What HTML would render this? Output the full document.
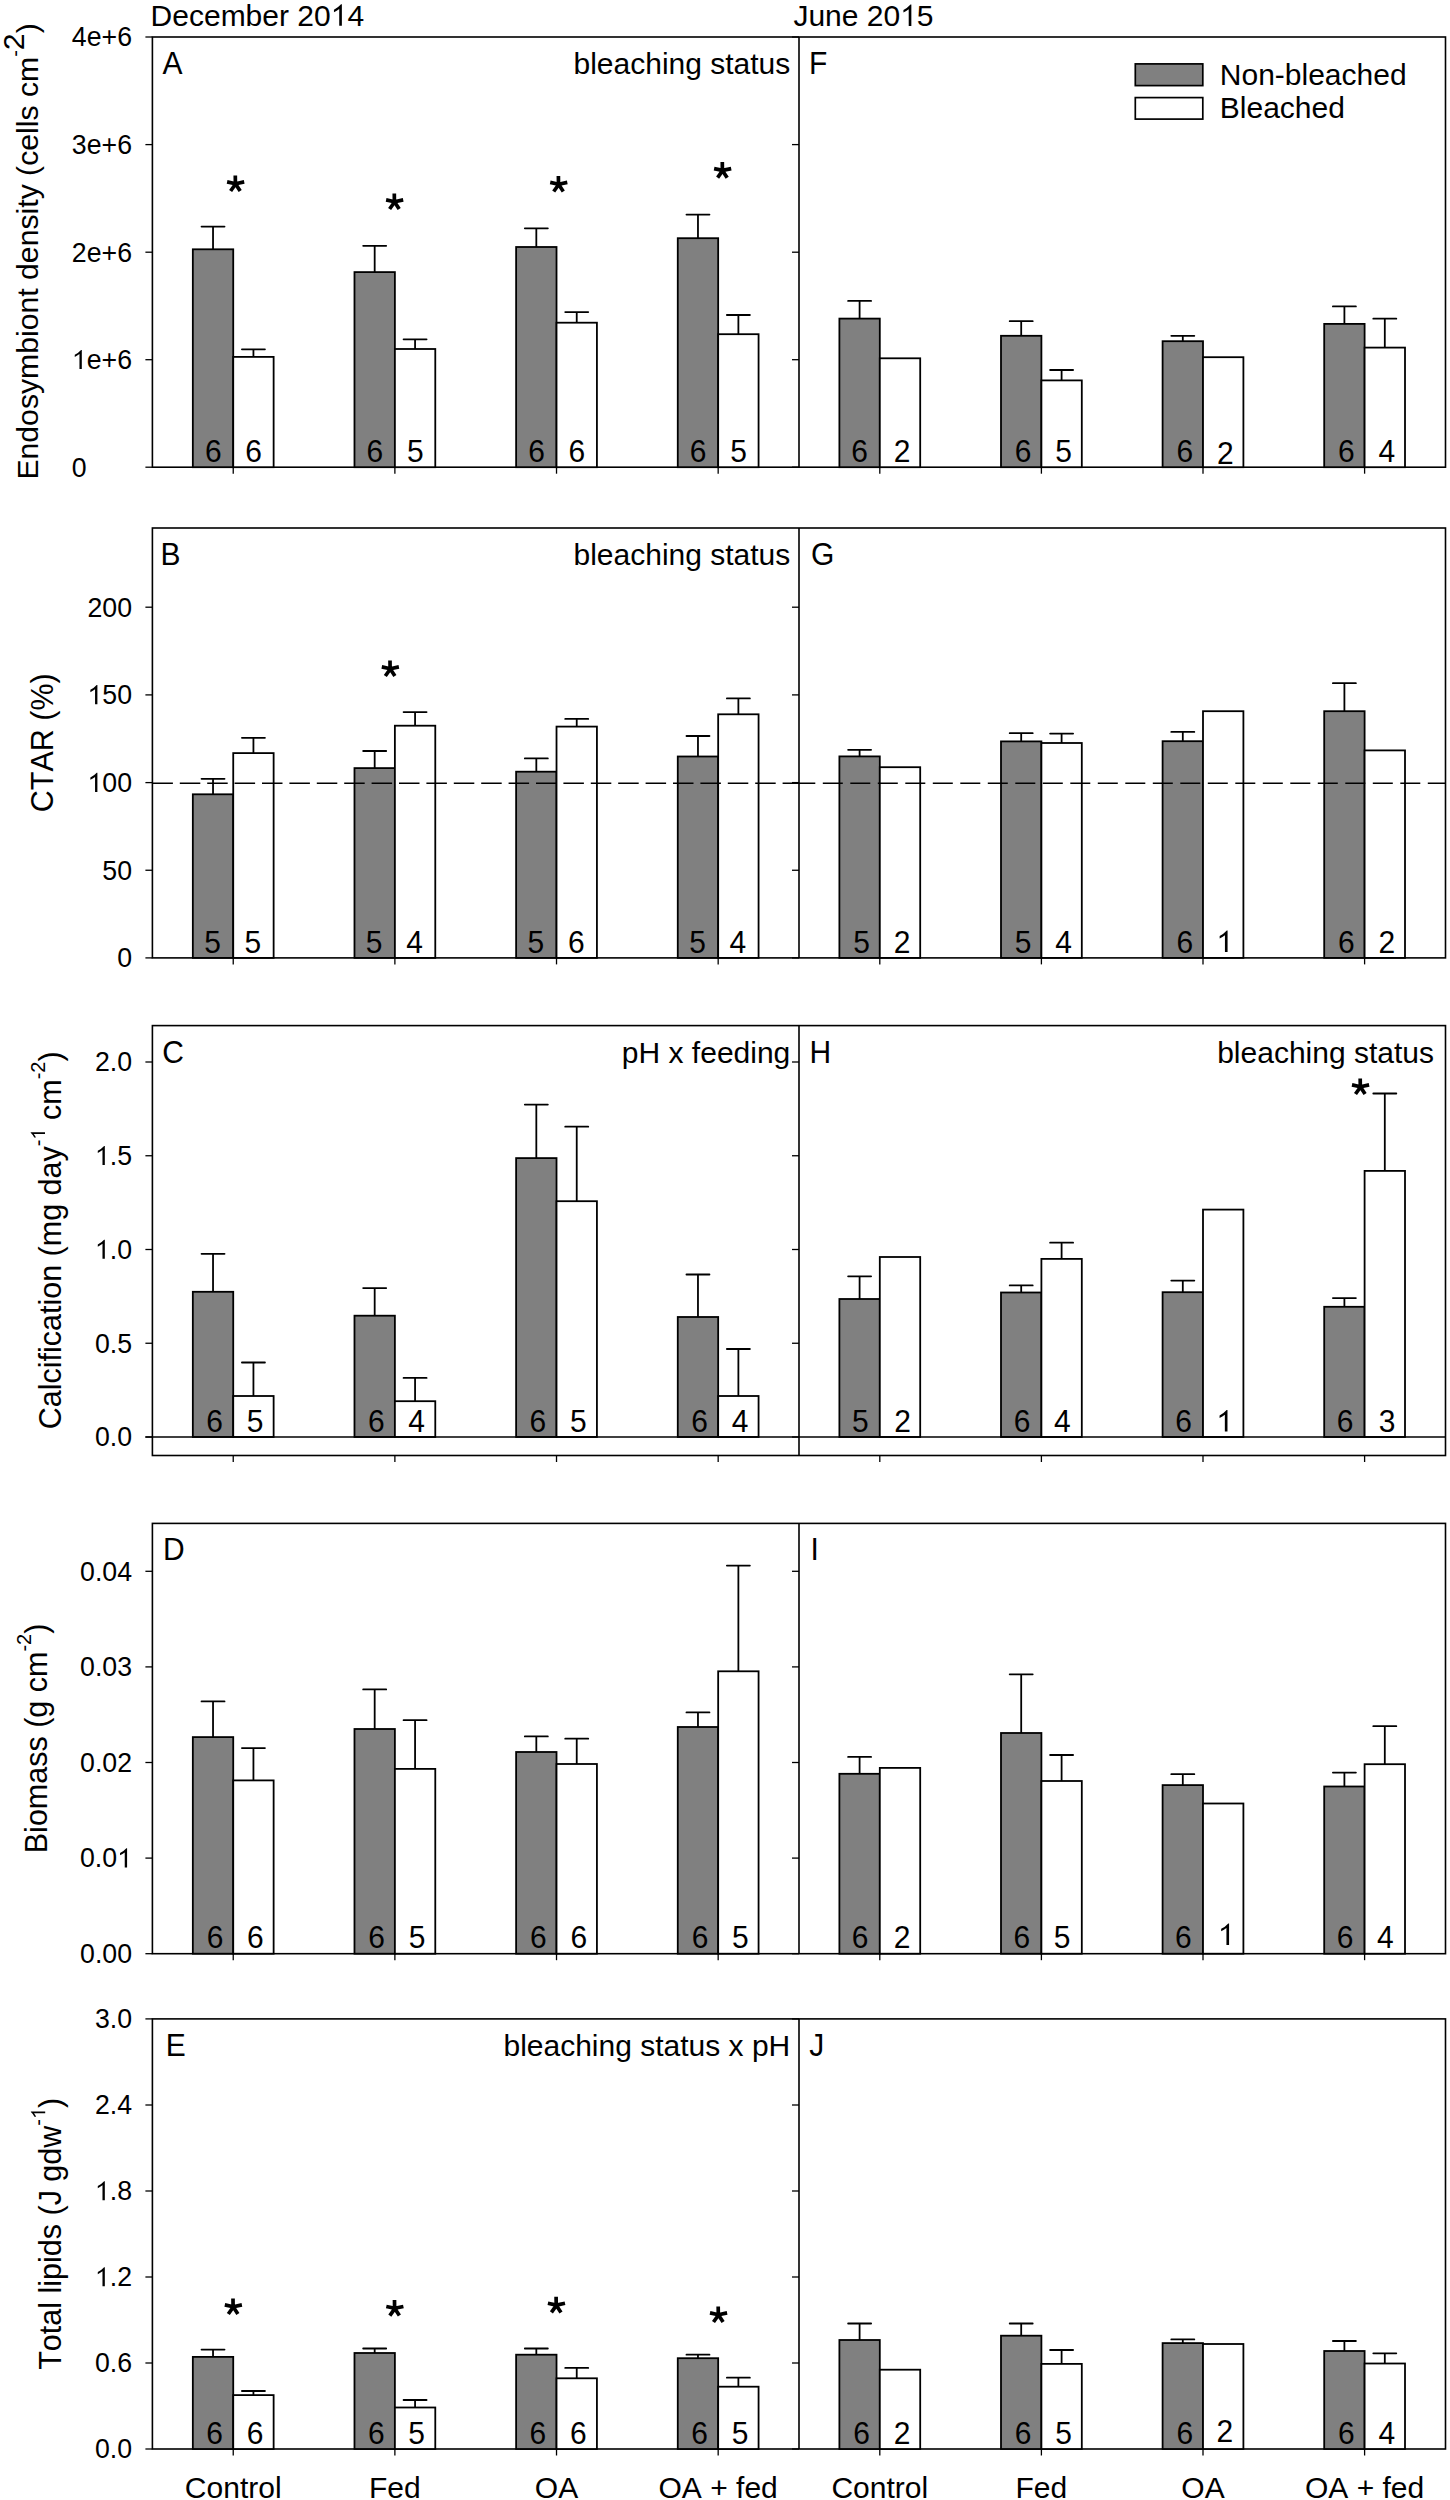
<!DOCTYPE html>
<html><head><meta charset="utf-8"><title>Figure</title>
<style>
html,body{margin:0;padding:0;background:#fff;}
svg{display:block;}
text{font-family:"Liberation Sans", sans-serif;fill:#000;font-kerning:none;}
.o{fill-opacity:0;}
</style></head>
<body>
<svg width="1450" height="2500" viewBox="0 0 1450 2500">
<defs><path id="one" d="M372.6,0 L284.7,0 L284.7,-560.1 Q205.1,-493.2 108.9,-452.1 L108.9,-537.1 Q244.1,-600.6 345.2,-715.8 L372.6,-715.8 Z"/><path id="ast" d="M-0.2,0 L-0.3,-8.6 M0,-0.3 L-8.5,-2.1 M0,-0.3 L8.6,-2.1 M0,0 L-5.0,7.0 M0,0 L4.6,7.0" stroke="#000" stroke-width="3.7" fill="none"/></defs>
<rect x="0" y="0" width="1450" height="2500" fill="#fff"/>
<rect x="152.4" y="37" width="1293.1" height="430.2" fill="none" stroke="#000" stroke-width="1.6"/>
<line x1="799" y1="37" x2="799" y2="467.2" stroke="#000" stroke-width="1.6"/>
<line x1="145.4" y1="467.2" x2="152.4" y2="467.2" stroke="#000" stroke-width="1.3"/>
<line x1="792" y1="467.2" x2="799" y2="467.2" stroke="#000" stroke-width="1.3"/>
<text transform="translate(71.7,476.5) scale(1,1.038)" font-size="26.7">0</text>
<line x1="145.4" y1="359.7" x2="152.4" y2="359.7" stroke="#000" stroke-width="1.3"/>
<line x1="792" y1="359.7" x2="799" y2="359.7" stroke="#000" stroke-width="1.3"/>
<text transform="translate(132,369) scale(1,1.038)" text-anchor="end" font-size="26.7"><tspan class="o">1</tspan>e+6</text>
<line x1="145.4" y1="252.2" x2="152.4" y2="252.2" stroke="#000" stroke-width="1.3"/>
<line x1="792" y1="252.2" x2="799" y2="252.2" stroke="#000" stroke-width="1.3"/>
<text transform="translate(132,261.5) scale(1,1.038)" text-anchor="end" font-size="26.7">2e+6</text>
<line x1="145.4" y1="144.6" x2="152.4" y2="144.6" stroke="#000" stroke-width="1.3"/>
<line x1="792" y1="144.6" x2="799" y2="144.6" stroke="#000" stroke-width="1.3"/>
<text transform="translate(132,153.9) scale(1,1.038)" text-anchor="end" font-size="26.7">3e+6</text>
<line x1="145.4" y1="37" x2="152.4" y2="37" stroke="#000" stroke-width="1.3"/>
<line x1="792" y1="37" x2="799" y2="37" stroke="#000" stroke-width="1.3"/>
<text transform="translate(132,46.3) scale(1,1.038)" text-anchor="end" font-size="26.7">4e+6</text>
<line x1="233.23" y1="467.2" x2="233.23" y2="473.7" stroke="#000" stroke-width="1.3"/>
<line x1="394.88" y1="467.2" x2="394.88" y2="473.7" stroke="#000" stroke-width="1.3"/>
<line x1="556.52" y1="467.2" x2="556.52" y2="473.7" stroke="#000" stroke-width="1.3"/>
<line x1="718.17" y1="467.2" x2="718.17" y2="473.7" stroke="#000" stroke-width="1.3"/>
<line x1="879.8" y1="467.2" x2="879.8" y2="473.7" stroke="#000" stroke-width="1.3"/>
<line x1="1041.4" y1="467.2" x2="1041.4" y2="473.7" stroke="#000" stroke-width="1.3"/>
<line x1="1203" y1="467.2" x2="1203" y2="473.7" stroke="#000" stroke-width="1.3"/>
<line x1="1364.6" y1="467.2" x2="1364.6" y2="473.7" stroke="#000" stroke-width="1.3"/>
<rect x="152.4" y="528" width="1293.1" height="429.9" fill="none" stroke="#000" stroke-width="1.6"/>
<line x1="799" y1="528" x2="799" y2="957.9" stroke="#000" stroke-width="1.6"/>
<line x1="145.4" y1="957.9" x2="152.4" y2="957.9" stroke="#000" stroke-width="1.3"/>
<line x1="792" y1="957.9" x2="799" y2="957.9" stroke="#000" stroke-width="1.3"/>
<text transform="translate(132,967.2) scale(1,1.038)" text-anchor="end" font-size="26.7">0</text>
<line x1="145.4" y1="870.25" x2="152.4" y2="870.25" stroke="#000" stroke-width="1.3"/>
<line x1="792" y1="870.25" x2="799" y2="870.25" stroke="#000" stroke-width="1.3"/>
<text transform="translate(132,879.55) scale(1,1.038)" text-anchor="end" font-size="26.7">50</text>
<line x1="145.4" y1="782.6" x2="152.4" y2="782.6" stroke="#000" stroke-width="1.3"/>
<line x1="792" y1="782.6" x2="799" y2="782.6" stroke="#000" stroke-width="1.3"/>
<text transform="translate(132,791.9) scale(1,1.038)" text-anchor="end" font-size="26.7"><tspan class="o">1</tspan>00</text>
<line x1="145.4" y1="694.9" x2="152.4" y2="694.9" stroke="#000" stroke-width="1.3"/>
<line x1="792" y1="694.9" x2="799" y2="694.9" stroke="#000" stroke-width="1.3"/>
<text transform="translate(132,704.2) scale(1,1.038)" text-anchor="end" font-size="26.7"><tspan class="o">1</tspan>50</text>
<line x1="145.4" y1="607.2" x2="152.4" y2="607.2" stroke="#000" stroke-width="1.3"/>
<line x1="792" y1="607.2" x2="799" y2="607.2" stroke="#000" stroke-width="1.3"/>
<text transform="translate(132,616.5) scale(1,1.038)" text-anchor="end" font-size="26.7">200</text>
<line x1="233.23" y1="957.9" x2="233.23" y2="964.4" stroke="#000" stroke-width="1.3"/>
<line x1="394.88" y1="957.9" x2="394.88" y2="964.4" stroke="#000" stroke-width="1.3"/>
<line x1="556.52" y1="957.9" x2="556.52" y2="964.4" stroke="#000" stroke-width="1.3"/>
<line x1="718.17" y1="957.9" x2="718.17" y2="964.4" stroke="#000" stroke-width="1.3"/>
<line x1="879.8" y1="957.9" x2="879.8" y2="964.4" stroke="#000" stroke-width="1.3"/>
<line x1="1041.4" y1="957.9" x2="1041.4" y2="964.4" stroke="#000" stroke-width="1.3"/>
<line x1="1203" y1="957.9" x2="1203" y2="964.4" stroke="#000" stroke-width="1.3"/>
<line x1="1364.6" y1="957.9" x2="1364.6" y2="964.4" stroke="#000" stroke-width="1.3"/>
<rect x="152.4" y="1025.6" width="1293.1" height="429.9" fill="none" stroke="#000" stroke-width="1.6"/>
<line x1="799" y1="1025.6" x2="799" y2="1455.5" stroke="#000" stroke-width="1.6"/>
<line x1="145.4" y1="1437" x2="152.4" y2="1437" stroke="#000" stroke-width="1.3"/>
<line x1="792" y1="1437" x2="799" y2="1437" stroke="#000" stroke-width="1.3"/>
<text transform="translate(132,1446.3) scale(1,1.038)" text-anchor="end" font-size="26.7">0.0</text>
<line x1="145.4" y1="1343.25" x2="152.4" y2="1343.25" stroke="#000" stroke-width="1.3"/>
<line x1="792" y1="1343.25" x2="799" y2="1343.25" stroke="#000" stroke-width="1.3"/>
<text transform="translate(132,1352.55) scale(1,1.038)" text-anchor="end" font-size="26.7">0.5</text>
<line x1="145.4" y1="1249.5" x2="152.4" y2="1249.5" stroke="#000" stroke-width="1.3"/>
<line x1="792" y1="1249.5" x2="799" y2="1249.5" stroke="#000" stroke-width="1.3"/>
<text transform="translate(132,1258.8) scale(1,1.038)" text-anchor="end" font-size="26.7"><tspan class="o">1</tspan>.0</text>
<line x1="145.4" y1="1155.75" x2="152.4" y2="1155.75" stroke="#000" stroke-width="1.3"/>
<line x1="792" y1="1155.75" x2="799" y2="1155.75" stroke="#000" stroke-width="1.3"/>
<text transform="translate(132,1165.05) scale(1,1.038)" text-anchor="end" font-size="26.7"><tspan class="o">1</tspan>.5</text>
<line x1="145.4" y1="1062" x2="152.4" y2="1062" stroke="#000" stroke-width="1.3"/>
<line x1="792" y1="1062" x2="799" y2="1062" stroke="#000" stroke-width="1.3"/>
<text transform="translate(132,1071.3) scale(1,1.038)" text-anchor="end" font-size="26.7">2.0</text>
<line x1="233.23" y1="1455.5" x2="233.23" y2="1462" stroke="#000" stroke-width="1.3"/>
<line x1="394.88" y1="1455.5" x2="394.88" y2="1462" stroke="#000" stroke-width="1.3"/>
<line x1="556.52" y1="1455.5" x2="556.52" y2="1462" stroke="#000" stroke-width="1.3"/>
<line x1="718.17" y1="1455.5" x2="718.17" y2="1462" stroke="#000" stroke-width="1.3"/>
<line x1="879.8" y1="1455.5" x2="879.8" y2="1462" stroke="#000" stroke-width="1.3"/>
<line x1="1041.4" y1="1455.5" x2="1041.4" y2="1462" stroke="#000" stroke-width="1.3"/>
<line x1="1203" y1="1455.5" x2="1203" y2="1462" stroke="#000" stroke-width="1.3"/>
<line x1="1364.6" y1="1455.5" x2="1364.6" y2="1462" stroke="#000" stroke-width="1.3"/>
<rect x="152.4" y="1523.4" width="1293.1" height="430.3" fill="none" stroke="#000" stroke-width="1.6"/>
<line x1="799" y1="1523.4" x2="799" y2="1953.7" stroke="#000" stroke-width="1.6"/>
<line x1="145.4" y1="1953.7" x2="152.4" y2="1953.7" stroke="#000" stroke-width="1.3"/>
<line x1="792" y1="1953.7" x2="799" y2="1953.7" stroke="#000" stroke-width="1.3"/>
<text transform="translate(132,1963) scale(1,1.038)" text-anchor="end" font-size="26.7">0.00</text>
<line x1="145.4" y1="1858.1" x2="152.4" y2="1858.1" stroke="#000" stroke-width="1.3"/>
<line x1="792" y1="1858.1" x2="799" y2="1858.1" stroke="#000" stroke-width="1.3"/>
<text transform="translate(132,1867.4) scale(1,1.038)" text-anchor="end" font-size="26.7">0.0<tspan class="o">1</tspan></text>
<line x1="145.4" y1="1762.5" x2="152.4" y2="1762.5" stroke="#000" stroke-width="1.3"/>
<line x1="792" y1="1762.5" x2="799" y2="1762.5" stroke="#000" stroke-width="1.3"/>
<text transform="translate(132,1771.8) scale(1,1.038)" text-anchor="end" font-size="26.7">0.02</text>
<line x1="145.4" y1="1666.9" x2="152.4" y2="1666.9" stroke="#000" stroke-width="1.3"/>
<line x1="792" y1="1666.9" x2="799" y2="1666.9" stroke="#000" stroke-width="1.3"/>
<text transform="translate(132,1676.2) scale(1,1.038)" text-anchor="end" font-size="26.7">0.03</text>
<line x1="145.4" y1="1571.3" x2="152.4" y2="1571.3" stroke="#000" stroke-width="1.3"/>
<line x1="792" y1="1571.3" x2="799" y2="1571.3" stroke="#000" stroke-width="1.3"/>
<text transform="translate(132,1580.6) scale(1,1.038)" text-anchor="end" font-size="26.7">0.04</text>
<line x1="233.23" y1="1953.7" x2="233.23" y2="1960.2" stroke="#000" stroke-width="1.3"/>
<line x1="394.88" y1="1953.7" x2="394.88" y2="1960.2" stroke="#000" stroke-width="1.3"/>
<line x1="556.52" y1="1953.7" x2="556.52" y2="1960.2" stroke="#000" stroke-width="1.3"/>
<line x1="718.17" y1="1953.7" x2="718.17" y2="1960.2" stroke="#000" stroke-width="1.3"/>
<line x1="879.8" y1="1953.7" x2="879.8" y2="1960.2" stroke="#000" stroke-width="1.3"/>
<line x1="1041.4" y1="1953.7" x2="1041.4" y2="1960.2" stroke="#000" stroke-width="1.3"/>
<line x1="1203" y1="1953.7" x2="1203" y2="1960.2" stroke="#000" stroke-width="1.3"/>
<line x1="1364.6" y1="1953.7" x2="1364.6" y2="1960.2" stroke="#000" stroke-width="1.3"/>
<rect x="152.4" y="2018.9" width="1293.1" height="430.1" fill="none" stroke="#000" stroke-width="1.6"/>
<line x1="799" y1="2018.9" x2="799" y2="2449" stroke="#000" stroke-width="1.6"/>
<line x1="145.4" y1="2449" x2="152.4" y2="2449" stroke="#000" stroke-width="1.3"/>
<line x1="792" y1="2449" x2="799" y2="2449" stroke="#000" stroke-width="1.3"/>
<text transform="translate(132,2458.3) scale(1,1.038)" text-anchor="end" font-size="26.7">0.0</text>
<line x1="145.4" y1="2363" x2="152.4" y2="2363" stroke="#000" stroke-width="1.3"/>
<line x1="792" y1="2363" x2="799" y2="2363" stroke="#000" stroke-width="1.3"/>
<text transform="translate(132,2372.3) scale(1,1.038)" text-anchor="end" font-size="26.7">0.6</text>
<line x1="145.4" y1="2277" x2="152.4" y2="2277" stroke="#000" stroke-width="1.3"/>
<line x1="792" y1="2277" x2="799" y2="2277" stroke="#000" stroke-width="1.3"/>
<text transform="translate(132,2286.3) scale(1,1.038)" text-anchor="end" font-size="26.7"><tspan class="o">1</tspan>.2</text>
<line x1="145.4" y1="2191" x2="152.4" y2="2191" stroke="#000" stroke-width="1.3"/>
<line x1="792" y1="2191" x2="799" y2="2191" stroke="#000" stroke-width="1.3"/>
<text transform="translate(132,2200.3) scale(1,1.038)" text-anchor="end" font-size="26.7"><tspan class="o">1</tspan>.8</text>
<line x1="145.4" y1="2105" x2="152.4" y2="2105" stroke="#000" stroke-width="1.3"/>
<line x1="792" y1="2105" x2="799" y2="2105" stroke="#000" stroke-width="1.3"/>
<text transform="translate(132,2114.3) scale(1,1.038)" text-anchor="end" font-size="26.7">2.4</text>
<line x1="145.4" y1="2018.9" x2="152.4" y2="2018.9" stroke="#000" stroke-width="1.3"/>
<line x1="792" y1="2018.9" x2="799" y2="2018.9" stroke="#000" stroke-width="1.3"/>
<text transform="translate(132,2028.2) scale(1,1.038)" text-anchor="end" font-size="26.7">3.0</text>
<line x1="233.23" y1="2449" x2="233.23" y2="2455.5" stroke="#000" stroke-width="1.3"/>
<line x1="394.88" y1="2449" x2="394.88" y2="2455.5" stroke="#000" stroke-width="1.3"/>
<line x1="556.52" y1="2449" x2="556.52" y2="2455.5" stroke="#000" stroke-width="1.3"/>
<line x1="718.17" y1="2449" x2="718.17" y2="2455.5" stroke="#000" stroke-width="1.3"/>
<line x1="879.8" y1="2449" x2="879.8" y2="2455.5" stroke="#000" stroke-width="1.3"/>
<line x1="1041.4" y1="2449" x2="1041.4" y2="2455.5" stroke="#000" stroke-width="1.3"/>
<line x1="1203" y1="2449" x2="1203" y2="2455.5" stroke="#000" stroke-width="1.3"/>
<line x1="1364.6" y1="2449" x2="1364.6" y2="2455.5" stroke="#000" stroke-width="1.3"/>
<rect x="192.83" y="249.3" width="40.4" height="217.9" fill="#808080" stroke="#000" stroke-width="1.8"/>
<rect x="233.23" y="356.9" width="40.4" height="110.3" fill="#fff" stroke="#000" stroke-width="1.8"/>
<line x1="213.03" y1="249.3" x2="213.03" y2="226.6" stroke="#000" stroke-width="1.8"/>
<line x1="201.53" y1="226.6" x2="224.53" y2="226.6" stroke="#000" stroke-width="1.8" stroke-linecap="round"/>
<line x1="253.43" y1="356.9" x2="253.43" y2="349.3" stroke="#000" stroke-width="1.8"/>
<line x1="241.93" y1="349.3" x2="264.93" y2="349.3" stroke="#000" stroke-width="1.8" stroke-linecap="round"/>
<text transform="translate(213.23,461.9) scale(1,1.038)" text-anchor="middle" font-size="30">6</text>
<text transform="translate(253.62,461.9) scale(1,1.038)" text-anchor="middle" font-size="30">6</text>
<rect x="354.48" y="272.1" width="40.4" height="195.1" fill="#808080" stroke="#000" stroke-width="1.8"/>
<rect x="394.88" y="349" width="40.4" height="118.2" fill="#fff" stroke="#000" stroke-width="1.8"/>
<line x1="374.68" y1="272.1" x2="374.68" y2="245.8" stroke="#000" stroke-width="1.8"/>
<line x1="363.18" y1="245.8" x2="386.18" y2="245.8" stroke="#000" stroke-width="1.8" stroke-linecap="round"/>
<line x1="415.07" y1="349" x2="415.07" y2="339.3" stroke="#000" stroke-width="1.8"/>
<line x1="403.57" y1="339.3" x2="426.57" y2="339.3" stroke="#000" stroke-width="1.8" stroke-linecap="round"/>
<text transform="translate(374.88,461.9) scale(1,1.038)" text-anchor="middle" font-size="30">6</text>
<text transform="translate(415.27,461.9) scale(1,1.038)" text-anchor="middle" font-size="30">5</text>
<rect x="516.12" y="247" width="40.4" height="220.2" fill="#808080" stroke="#000" stroke-width="1.8"/>
<rect x="556.52" y="322.7" width="40.4" height="144.5" fill="#fff" stroke="#000" stroke-width="1.8"/>
<line x1="536.32" y1="247" x2="536.32" y2="228.3" stroke="#000" stroke-width="1.8"/>
<line x1="524.82" y1="228.3" x2="547.82" y2="228.3" stroke="#000" stroke-width="1.8" stroke-linecap="round"/>
<line x1="576.73" y1="322.7" x2="576.73" y2="312.1" stroke="#000" stroke-width="1.8"/>
<line x1="565.23" y1="312.1" x2="588.23" y2="312.1" stroke="#000" stroke-width="1.8" stroke-linecap="round"/>
<text transform="translate(536.52,461.9) scale(1,1.038)" text-anchor="middle" font-size="30">6</text>
<text transform="translate(576.93,461.9) scale(1,1.038)" text-anchor="middle" font-size="30">6</text>
<rect x="677.77" y="238.2" width="40.4" height="229" fill="#808080" stroke="#000" stroke-width="1.8"/>
<rect x="718.17" y="334.2" width="40.4" height="133" fill="#fff" stroke="#000" stroke-width="1.8"/>
<line x1="697.97" y1="238.2" x2="697.97" y2="214.6" stroke="#000" stroke-width="1.8"/>
<line x1="686.47" y1="214.6" x2="709.47" y2="214.6" stroke="#000" stroke-width="1.8" stroke-linecap="round"/>
<line x1="738.38" y1="334.2" x2="738.38" y2="315" stroke="#000" stroke-width="1.8"/>
<line x1="726.88" y1="315" x2="749.88" y2="315" stroke="#000" stroke-width="1.8" stroke-linecap="round"/>
<text transform="translate(698.17,461.9) scale(1,1.038)" text-anchor="middle" font-size="30">6</text>
<text transform="translate(738.58,461.9) scale(1,1.038)" text-anchor="middle" font-size="30">5</text>
<use href="#ast" x="235.6" y="184"/>
<use href="#ast" x="394.6" y="202"/>
<use href="#ast" x="558.7" y="184.5"/>
<use href="#ast" x="722.6" y="170.7"/>
<text transform="translate(162.5,74) scale(1,1.038)" font-size="30">A</text>
<text x="790.3" y="74" text-anchor="end" font-size="30">bleaching status</text>
<rect x="839.4" y="318.6" width="40.4" height="148.6" fill="#808080" stroke="#000" stroke-width="1.8"/>
<rect x="879.8" y="358.3" width="40.4" height="108.9" fill="#fff" stroke="#000" stroke-width="1.8"/>
<line x1="859.6" y1="318.6" x2="859.6" y2="300.9" stroke="#000" stroke-width="1.8"/>
<line x1="848.1" y1="300.9" x2="871.1" y2="300.9" stroke="#000" stroke-width="1.8" stroke-linecap="round"/>
<text transform="translate(859.6,461.9) scale(1,1.038)" text-anchor="middle" font-size="30">6</text>
<text transform="translate(902,461.9) scale(1,1.038)" text-anchor="middle" font-size="30">2</text>
<rect x="1001" y="335.8" width="40.4" height="131.4" fill="#808080" stroke="#000" stroke-width="1.8"/>
<rect x="1041.4" y="380.4" width="40.4" height="86.8" fill="#fff" stroke="#000" stroke-width="1.8"/>
<line x1="1021.2" y1="335.8" x2="1021.2" y2="321.2" stroke="#000" stroke-width="1.8"/>
<line x1="1009.7" y1="321.2" x2="1032.7" y2="321.2" stroke="#000" stroke-width="1.8" stroke-linecap="round"/>
<line x1="1061.6" y1="380.4" x2="1061.6" y2="370" stroke="#000" stroke-width="1.8"/>
<line x1="1050.1" y1="370" x2="1073.1" y2="370" stroke="#000" stroke-width="1.8" stroke-linecap="round"/>
<text transform="translate(1023.2,461.9) scale(1,1.038)" text-anchor="middle" font-size="30">6</text>
<text transform="translate(1063.6,461.9) scale(1,1.038)" text-anchor="middle" font-size="30">5</text>
<rect x="1162.6" y="341.2" width="40.4" height="126" fill="#808080" stroke="#000" stroke-width="1.8"/>
<rect x="1203" y="357.2" width="40.4" height="110" fill="#fff" stroke="#000" stroke-width="1.8"/>
<line x1="1182.8" y1="341.2" x2="1182.8" y2="335.8" stroke="#000" stroke-width="1.8"/>
<line x1="1171.3" y1="335.8" x2="1194.3" y2="335.8" stroke="#000" stroke-width="1.8" stroke-linecap="round"/>
<text transform="translate(1184.8,461.9) scale(1,1.038)" text-anchor="middle" font-size="30">6</text>
<text transform="translate(1225.4,463.9) scale(1,1.038)" text-anchor="middle" font-size="30">2</text>
<rect x="1324.2" y="323.9" width="40.4" height="143.3" fill="#808080" stroke="#000" stroke-width="1.8"/>
<rect x="1364.6" y="347.6" width="40.4" height="119.6" fill="#fff" stroke="#000" stroke-width="1.8"/>
<line x1="1344.4" y1="323.9" x2="1344.4" y2="306.4" stroke="#000" stroke-width="1.8"/>
<line x1="1332.9" y1="306.4" x2="1355.9" y2="306.4" stroke="#000" stroke-width="1.8" stroke-linecap="round"/>
<line x1="1384.8" y1="347.6" x2="1384.8" y2="318.7" stroke="#000" stroke-width="1.8"/>
<line x1="1373.3" y1="318.7" x2="1396.3" y2="318.7" stroke="#000" stroke-width="1.8" stroke-linecap="round"/>
<text transform="translate(1346.4,461.9) scale(1,1.038)" text-anchor="middle" font-size="30">6</text>
<text transform="translate(1386.8,461.9) scale(1,1.038)" text-anchor="middle" font-size="30">4</text>
<text transform="translate(809.0,74) scale(1,1.038)" font-size="30">F</text>
<rect x="192.83" y="794.3" width="40.4" height="163.6" fill="#808080" stroke="#000" stroke-width="1.8"/>
<rect x="233.23" y="753.1" width="40.4" height="204.8" fill="#fff" stroke="#000" stroke-width="1.8"/>
<line x1="213.03" y1="794.3" x2="213.03" y2="778.8" stroke="#000" stroke-width="1.8"/>
<line x1="201.53" y1="778.8" x2="224.53" y2="778.8" stroke="#000" stroke-width="1.8" stroke-linecap="round"/>
<line x1="253.43" y1="753.1" x2="253.43" y2="737.8" stroke="#000" stroke-width="1.8"/>
<line x1="241.93" y1="737.8" x2="264.93" y2="737.8" stroke="#000" stroke-width="1.8" stroke-linecap="round"/>
<text transform="translate(212.53,952.6) scale(1,1.038)" text-anchor="middle" font-size="30">5</text>
<text transform="translate(252.93,952.6) scale(1,1.038)" text-anchor="middle" font-size="30">5</text>
<rect x="354.48" y="768.1" width="40.4" height="189.8" fill="#808080" stroke="#000" stroke-width="1.8"/>
<rect x="394.88" y="725.7" width="40.4" height="232.2" fill="#fff" stroke="#000" stroke-width="1.8"/>
<line x1="374.68" y1="768.1" x2="374.68" y2="751" stroke="#000" stroke-width="1.8"/>
<line x1="363.18" y1="751" x2="386.18" y2="751" stroke="#000" stroke-width="1.8" stroke-linecap="round"/>
<line x1="415.07" y1="725.7" x2="415.07" y2="712.1" stroke="#000" stroke-width="1.8"/>
<line x1="403.57" y1="712.1" x2="426.57" y2="712.1" stroke="#000" stroke-width="1.8" stroke-linecap="round"/>
<text transform="translate(374.18,952.6) scale(1,1.038)" text-anchor="middle" font-size="30">5</text>
<text transform="translate(414.57,952.6) scale(1,1.038)" text-anchor="middle" font-size="30">4</text>
<rect x="516.12" y="771.7" width="40.4" height="186.2" fill="#808080" stroke="#000" stroke-width="1.8"/>
<rect x="556.52" y="726.6" width="40.4" height="231.3" fill="#fff" stroke="#000" stroke-width="1.8"/>
<line x1="536.32" y1="771.7" x2="536.32" y2="758.4" stroke="#000" stroke-width="1.8"/>
<line x1="524.82" y1="758.4" x2="547.82" y2="758.4" stroke="#000" stroke-width="1.8" stroke-linecap="round"/>
<line x1="576.73" y1="726.6" x2="576.73" y2="718.9" stroke="#000" stroke-width="1.8"/>
<line x1="565.23" y1="718.9" x2="588.23" y2="718.9" stroke="#000" stroke-width="1.8" stroke-linecap="round"/>
<text transform="translate(535.82,952.6) scale(1,1.038)" text-anchor="middle" font-size="30">5</text>
<text transform="translate(576.23,952.6) scale(1,1.038)" text-anchor="middle" font-size="30">6</text>
<rect x="677.77" y="756.5" width="40.4" height="201.4" fill="#808080" stroke="#000" stroke-width="1.8"/>
<rect x="718.17" y="714.3" width="40.4" height="243.6" fill="#fff" stroke="#000" stroke-width="1.8"/>
<line x1="697.97" y1="756.5" x2="697.97" y2="736" stroke="#000" stroke-width="1.8"/>
<line x1="686.47" y1="736" x2="709.47" y2="736" stroke="#000" stroke-width="1.8" stroke-linecap="round"/>
<line x1="738.38" y1="714.3" x2="738.38" y2="698.4" stroke="#000" stroke-width="1.8"/>
<line x1="726.88" y1="698.4" x2="749.88" y2="698.4" stroke="#000" stroke-width="1.8" stroke-linecap="round"/>
<text transform="translate(697.47,952.6) scale(1,1.038)" text-anchor="middle" font-size="30">5</text>
<text transform="translate(737.88,952.6) scale(1,1.038)" text-anchor="middle" font-size="30">4</text>
<use href="#ast" x="390.3" y="669"/>
<text transform="translate(160.6,565) scale(1,1.038)" font-size="30">B</text>
<text x="790.3" y="565" text-anchor="end" font-size="30">bleaching status</text>
<rect x="839.4" y="756.4" width="40.4" height="201.5" fill="#808080" stroke="#000" stroke-width="1.8"/>
<rect x="879.8" y="767.2" width="40.4" height="190.7" fill="#fff" stroke="#000" stroke-width="1.8"/>
<line x1="859.6" y1="756.4" x2="859.6" y2="749.8" stroke="#000" stroke-width="1.8"/>
<line x1="848.1" y1="749.8" x2="871.1" y2="749.8" stroke="#000" stroke-width="1.8" stroke-linecap="round"/>
<text transform="translate(861.6,952.6) scale(1,1.038)" text-anchor="middle" font-size="30">5</text>
<text transform="translate(902,952.6) scale(1,1.038)" text-anchor="middle" font-size="30">2</text>
<rect x="1001" y="741.4" width="40.4" height="216.5" fill="#808080" stroke="#000" stroke-width="1.8"/>
<rect x="1041.4" y="743" width="40.4" height="214.9" fill="#fff" stroke="#000" stroke-width="1.8"/>
<line x1="1021.2" y1="741.4" x2="1021.2" y2="733.2" stroke="#000" stroke-width="1.8"/>
<line x1="1009.7" y1="733.2" x2="1032.7" y2="733.2" stroke="#000" stroke-width="1.8" stroke-linecap="round"/>
<line x1="1061.6" y1="743" x2="1061.6" y2="733.6" stroke="#000" stroke-width="1.8"/>
<line x1="1050.1" y1="733.6" x2="1073.1" y2="733.6" stroke="#000" stroke-width="1.8" stroke-linecap="round"/>
<text transform="translate(1023.2,952.6) scale(1,1.038)" text-anchor="middle" font-size="30">5</text>
<text transform="translate(1063.6,952.6) scale(1,1.038)" text-anchor="middle" font-size="30">4</text>
<rect x="1162.6" y="741.2" width="40.4" height="216.7" fill="#808080" stroke="#000" stroke-width="1.8"/>
<rect x="1203" y="711.2" width="40.4" height="246.7" fill="#fff" stroke="#000" stroke-width="1.8"/>
<line x1="1182.8" y1="741.2" x2="1182.8" y2="731.9" stroke="#000" stroke-width="1.8"/>
<line x1="1171.3" y1="731.9" x2="1194.3" y2="731.9" stroke="#000" stroke-width="1.8" stroke-linecap="round"/>
<text transform="translate(1184.8,952.6) scale(1,1.038)" text-anchor="middle" font-size="30">6</text>
<use href="#one" transform="translate(1216.4,952.0) scale(0.03)"/>
<rect x="1324.2" y="711.2" width="40.4" height="246.7" fill="#808080" stroke="#000" stroke-width="1.8"/>
<rect x="1364.6" y="750.4" width="40.4" height="207.5" fill="#fff" stroke="#000" stroke-width="1.8"/>
<line x1="1344.4" y1="711.2" x2="1344.4" y2="683.2" stroke="#000" stroke-width="1.8"/>
<line x1="1332.9" y1="683.2" x2="1355.9" y2="683.2" stroke="#000" stroke-width="1.8" stroke-linecap="round"/>
<text transform="translate(1346.4,952.6) scale(1,1.038)" text-anchor="middle" font-size="30">6</text>
<text transform="translate(1386.8,952.6) scale(1,1.038)" text-anchor="middle" font-size="30">2</text>
<text transform="translate(810.9,565) scale(1,1.038)" font-size="30">G</text>
<rect x="192.83" y="1291.8" width="40.4" height="145.2" fill="#808080" stroke="#000" stroke-width="1.8"/>
<rect x="233.23" y="1396" width="40.4" height="41" fill="#fff" stroke="#000" stroke-width="1.8"/>
<line x1="213.03" y1="1291.8" x2="213.03" y2="1253.8" stroke="#000" stroke-width="1.8"/>
<line x1="201.53" y1="1253.8" x2="224.53" y2="1253.8" stroke="#000" stroke-width="1.8" stroke-linecap="round"/>
<line x1="253.43" y1="1396" x2="253.43" y2="1362.5" stroke="#000" stroke-width="1.8"/>
<line x1="241.93" y1="1362.5" x2="264.93" y2="1362.5" stroke="#000" stroke-width="1.8" stroke-linecap="round"/>
<text transform="translate(214.63,1432.3) scale(1,1.038)" text-anchor="middle" font-size="30">6</text>
<text transform="translate(255.03,1432.3) scale(1,1.038)" text-anchor="middle" font-size="30">5</text>
<rect x="354.48" y="1315.7" width="40.4" height="121.3" fill="#808080" stroke="#000" stroke-width="1.8"/>
<rect x="394.88" y="1401.2" width="40.4" height="35.8" fill="#fff" stroke="#000" stroke-width="1.8"/>
<line x1="374.68" y1="1315.7" x2="374.68" y2="1288.1" stroke="#000" stroke-width="1.8"/>
<line x1="363.18" y1="1288.1" x2="386.18" y2="1288.1" stroke="#000" stroke-width="1.8" stroke-linecap="round"/>
<line x1="415.07" y1="1401.2" x2="415.07" y2="1377.9" stroke="#000" stroke-width="1.8"/>
<line x1="403.57" y1="1377.9" x2="426.57" y2="1377.9" stroke="#000" stroke-width="1.8" stroke-linecap="round"/>
<text transform="translate(376.28,1432.3) scale(1,1.038)" text-anchor="middle" font-size="30">6</text>
<text transform="translate(416.68,1432.3) scale(1,1.038)" text-anchor="middle" font-size="30">4</text>
<rect x="516.12" y="1158.1" width="40.4" height="278.9" fill="#808080" stroke="#000" stroke-width="1.8"/>
<rect x="556.52" y="1201.2" width="40.4" height="235.8" fill="#fff" stroke="#000" stroke-width="1.8"/>
<line x1="536.32" y1="1158.1" x2="536.32" y2="1104.6" stroke="#000" stroke-width="1.8"/>
<line x1="524.82" y1="1104.6" x2="547.82" y2="1104.6" stroke="#000" stroke-width="1.8" stroke-linecap="round"/>
<line x1="576.73" y1="1201.2" x2="576.73" y2="1126.7" stroke="#000" stroke-width="1.8"/>
<line x1="565.23" y1="1126.7" x2="588.23" y2="1126.7" stroke="#000" stroke-width="1.8" stroke-linecap="round"/>
<text transform="translate(537.92,1432.3) scale(1,1.038)" text-anchor="middle" font-size="30">6</text>
<text transform="translate(578.33,1432.3) scale(1,1.038)" text-anchor="middle" font-size="30">5</text>
<rect x="677.77" y="1317" width="40.4" height="120" fill="#808080" stroke="#000" stroke-width="1.8"/>
<rect x="718.17" y="1396" width="40.4" height="41" fill="#fff" stroke="#000" stroke-width="1.8"/>
<line x1="697.97" y1="1317" x2="697.97" y2="1274.5" stroke="#000" stroke-width="1.8"/>
<line x1="686.47" y1="1274.5" x2="709.47" y2="1274.5" stroke="#000" stroke-width="1.8" stroke-linecap="round"/>
<line x1="738.38" y1="1396" x2="738.38" y2="1349" stroke="#000" stroke-width="1.8"/>
<line x1="726.88" y1="1349" x2="749.88" y2="1349" stroke="#000" stroke-width="1.8" stroke-linecap="round"/>
<text transform="translate(699.57,1432.3) scale(1,1.038)" text-anchor="middle" font-size="30">6</text>
<text transform="translate(739.98,1432.3) scale(1,1.038)" text-anchor="middle" font-size="30">4</text>
<text transform="translate(162.2,1062.6) scale(1,1.038)" font-size="30">C</text>
<text x="790.3" y="1062.6" text-anchor="end" font-size="30">pH x feeding</text>
<rect x="839.4" y="1299" width="40.4" height="138" fill="#808080" stroke="#000" stroke-width="1.8"/>
<rect x="879.8" y="1257" width="40.4" height="180" fill="#fff" stroke="#000" stroke-width="1.8"/>
<line x1="859.6" y1="1299" x2="859.6" y2="1276.3" stroke="#000" stroke-width="1.8"/>
<line x1="848.1" y1="1276.3" x2="871.1" y2="1276.3" stroke="#000" stroke-width="1.8" stroke-linecap="round"/>
<text transform="translate(860.4,1432.3) scale(1,1.038)" text-anchor="middle" font-size="30">5</text>
<text transform="translate(902.6,1432.3) scale(1,1.038)" text-anchor="middle" font-size="30">2</text>
<rect x="1001" y="1292.5" width="40.4" height="144.5" fill="#808080" stroke="#000" stroke-width="1.8"/>
<rect x="1041.4" y="1258.9" width="40.4" height="178.1" fill="#fff" stroke="#000" stroke-width="1.8"/>
<line x1="1021.2" y1="1292.5" x2="1021.2" y2="1285.4" stroke="#000" stroke-width="1.8"/>
<line x1="1009.7" y1="1285.4" x2="1032.7" y2="1285.4" stroke="#000" stroke-width="1.8" stroke-linecap="round"/>
<line x1="1061.6" y1="1258.9" x2="1061.6" y2="1242.7" stroke="#000" stroke-width="1.8"/>
<line x1="1050.1" y1="1242.7" x2="1073.1" y2="1242.7" stroke="#000" stroke-width="1.8" stroke-linecap="round"/>
<text transform="translate(1022,1432.3) scale(1,1.038)" text-anchor="middle" font-size="30">6</text>
<text transform="translate(1062.4,1432.3) scale(1,1.038)" text-anchor="middle" font-size="30">4</text>
<rect x="1162.6" y="1292.2" width="40.4" height="144.8" fill="#808080" stroke="#000" stroke-width="1.8"/>
<rect x="1203" y="1209.6" width="40.4" height="227.4" fill="#fff" stroke="#000" stroke-width="1.8"/>
<line x1="1182.8" y1="1292.2" x2="1182.8" y2="1280.6" stroke="#000" stroke-width="1.8"/>
<line x1="1171.3" y1="1280.6" x2="1194.3" y2="1280.6" stroke="#000" stroke-width="1.8" stroke-linecap="round"/>
<text transform="translate(1183.6,1432.3) scale(1,1.038)" text-anchor="middle" font-size="30">6</text>
<use href="#one" transform="translate(1216.3,1431.5) scale(0.03)"/>
<rect x="1324.2" y="1306.8" width="40.4" height="130.2" fill="#808080" stroke="#000" stroke-width="1.8"/>
<rect x="1364.6" y="1170.9" width="40.4" height="266.1" fill="#fff" stroke="#000" stroke-width="1.8"/>
<line x1="1344.4" y1="1306.8" x2="1344.4" y2="1298.1" stroke="#000" stroke-width="1.8"/>
<line x1="1332.9" y1="1298.1" x2="1355.9" y2="1298.1" stroke="#000" stroke-width="1.8" stroke-linecap="round"/>
<line x1="1384.8" y1="1170.9" x2="1384.8" y2="1093.5" stroke="#000" stroke-width="1.8"/>
<line x1="1373.3" y1="1093.5" x2="1396.3" y2="1093.5" stroke="#000" stroke-width="1.8" stroke-linecap="round"/>
<text transform="translate(1345.2,1432.3) scale(1,1.038)" text-anchor="middle" font-size="30">6</text>
<text transform="translate(1387,1432.3) scale(1,1.038)" text-anchor="middle" font-size="30">3</text>
<use href="#ast" x="1360.5" y="1087"/>
<text transform="translate(809.4,1062.6) scale(1,1.038)" font-size="30">H</text>
<text x="1434.0" y="1062.6" text-anchor="end" font-size="30">bleaching status</text>
<rect x="192.83" y="1737.1" width="40.4" height="216.6" fill="#808080" stroke="#000" stroke-width="1.8"/>
<rect x="233.23" y="1780.4" width="40.4" height="173.3" fill="#fff" stroke="#000" stroke-width="1.8"/>
<line x1="213.03" y1="1737.1" x2="213.03" y2="1701.4" stroke="#000" stroke-width="1.8"/>
<line x1="201.53" y1="1701.4" x2="224.53" y2="1701.4" stroke="#000" stroke-width="1.8" stroke-linecap="round"/>
<line x1="253.43" y1="1780.4" x2="253.43" y2="1748.1" stroke="#000" stroke-width="1.8"/>
<line x1="241.93" y1="1748.1" x2="264.93" y2="1748.1" stroke="#000" stroke-width="1.8" stroke-linecap="round"/>
<text transform="translate(215.03,1948.4) scale(1,1.038)" text-anchor="middle" font-size="30">6</text>
<text transform="translate(255.43,1948.4) scale(1,1.038)" text-anchor="middle" font-size="30">6</text>
<rect x="354.48" y="1729" width="40.4" height="224.7" fill="#808080" stroke="#000" stroke-width="1.8"/>
<rect x="394.88" y="1768.9" width="40.4" height="184.8" fill="#fff" stroke="#000" stroke-width="1.8"/>
<line x1="374.68" y1="1729" x2="374.68" y2="1689.4" stroke="#000" stroke-width="1.8"/>
<line x1="363.18" y1="1689.4" x2="386.18" y2="1689.4" stroke="#000" stroke-width="1.8" stroke-linecap="round"/>
<line x1="415.07" y1="1768.9" x2="415.07" y2="1720.2" stroke="#000" stroke-width="1.8"/>
<line x1="403.57" y1="1720.2" x2="426.57" y2="1720.2" stroke="#000" stroke-width="1.8" stroke-linecap="round"/>
<text transform="translate(376.68,1948.4) scale(1,1.038)" text-anchor="middle" font-size="30">6</text>
<text transform="translate(417.07,1948.4) scale(1,1.038)" text-anchor="middle" font-size="30">5</text>
<rect x="516.12" y="1752" width="40.4" height="201.7" fill="#808080" stroke="#000" stroke-width="1.8"/>
<rect x="556.52" y="1764" width="40.4" height="189.7" fill="#fff" stroke="#000" stroke-width="1.8"/>
<line x1="536.32" y1="1752" x2="536.32" y2="1736.4" stroke="#000" stroke-width="1.8"/>
<line x1="524.82" y1="1736.4" x2="547.82" y2="1736.4" stroke="#000" stroke-width="1.8" stroke-linecap="round"/>
<line x1="576.73" y1="1764" x2="576.73" y2="1738.7" stroke="#000" stroke-width="1.8"/>
<line x1="565.23" y1="1738.7" x2="588.23" y2="1738.7" stroke="#000" stroke-width="1.8" stroke-linecap="round"/>
<text transform="translate(538.32,1948.4) scale(1,1.038)" text-anchor="middle" font-size="30">6</text>
<text transform="translate(578.73,1948.4) scale(1,1.038)" text-anchor="middle" font-size="30">6</text>
<rect x="677.77" y="1727" width="40.4" height="226.7" fill="#808080" stroke="#000" stroke-width="1.8"/>
<rect x="718.17" y="1671.3" width="40.4" height="282.4" fill="#fff" stroke="#000" stroke-width="1.8"/>
<line x1="697.97" y1="1727" x2="697.97" y2="1712.4" stroke="#000" stroke-width="1.8"/>
<line x1="686.47" y1="1712.4" x2="709.47" y2="1712.4" stroke="#000" stroke-width="1.8" stroke-linecap="round"/>
<line x1="738.38" y1="1671.3" x2="738.38" y2="1565.6" stroke="#000" stroke-width="1.8"/>
<line x1="726.88" y1="1565.6" x2="749.88" y2="1565.6" stroke="#000" stroke-width="1.8" stroke-linecap="round"/>
<text transform="translate(699.97,1948.4) scale(1,1.038)" text-anchor="middle" font-size="30">6</text>
<text transform="translate(740.38,1948.4) scale(1,1.038)" text-anchor="middle" font-size="30">5</text>
<text transform="translate(163.0,1560.4) scale(1,1.038)" font-size="30">D</text>
<rect x="839.4" y="1773.8" width="40.4" height="179.9" fill="#808080" stroke="#000" stroke-width="1.8"/>
<rect x="879.8" y="1767.9" width="40.4" height="185.8" fill="#fff" stroke="#000" stroke-width="1.8"/>
<line x1="859.6" y1="1773.8" x2="859.6" y2="1756.9" stroke="#000" stroke-width="1.8"/>
<line x1="848.1" y1="1756.9" x2="871.1" y2="1756.9" stroke="#000" stroke-width="1.8" stroke-linecap="round"/>
<text transform="translate(860.2,1948.4) scale(1,1.038)" text-anchor="middle" font-size="30">6</text>
<text transform="translate(902,1948.4) scale(1,1.038)" text-anchor="middle" font-size="30">2</text>
<rect x="1001" y="1733" width="40.4" height="220.7" fill="#808080" stroke="#000" stroke-width="1.8"/>
<rect x="1041.4" y="1781" width="40.4" height="172.7" fill="#fff" stroke="#000" stroke-width="1.8"/>
<line x1="1021.2" y1="1733" x2="1021.2" y2="1674.3" stroke="#000" stroke-width="1.8"/>
<line x1="1009.7" y1="1674.3" x2="1032.7" y2="1674.3" stroke="#000" stroke-width="1.8" stroke-linecap="round"/>
<line x1="1061.6" y1="1781" x2="1061.6" y2="1755" stroke="#000" stroke-width="1.8"/>
<line x1="1050.1" y1="1755" x2="1073.1" y2="1755" stroke="#000" stroke-width="1.8" stroke-linecap="round"/>
<text transform="translate(1021.8,1948.4) scale(1,1.038)" text-anchor="middle" font-size="30">6</text>
<text transform="translate(1062.2,1948.4) scale(1,1.038)" text-anchor="middle" font-size="30">5</text>
<rect x="1162.6" y="1785.1" width="40.4" height="168.6" fill="#808080" stroke="#000" stroke-width="1.8"/>
<rect x="1203" y="1803.5" width="40.4" height="150.2" fill="#fff" stroke="#000" stroke-width="1.8"/>
<line x1="1182.8" y1="1785.1" x2="1182.8" y2="1774.2" stroke="#000" stroke-width="1.8"/>
<line x1="1171.3" y1="1774.2" x2="1194.3" y2="1774.2" stroke="#000" stroke-width="1.8" stroke-linecap="round"/>
<text transform="translate(1183.4,1948.4) scale(1,1.038)" text-anchor="middle" font-size="30">6</text>
<use href="#one" transform="translate(1217.9,1944.9) scale(0.03)"/>
<rect x="1324.2" y="1786.5" width="40.4" height="167.2" fill="#808080" stroke="#000" stroke-width="1.8"/>
<rect x="1364.6" y="1764.2" width="40.4" height="189.5" fill="#fff" stroke="#000" stroke-width="1.8"/>
<line x1="1344.4" y1="1786.5" x2="1344.4" y2="1772.6" stroke="#000" stroke-width="1.8"/>
<line x1="1332.9" y1="1772.6" x2="1355.9" y2="1772.6" stroke="#000" stroke-width="1.8" stroke-linecap="round"/>
<line x1="1384.8" y1="1764.2" x2="1384.8" y2="1726.2" stroke="#000" stroke-width="1.8"/>
<line x1="1373.3" y1="1726.2" x2="1396.3" y2="1726.2" stroke="#000" stroke-width="1.8" stroke-linecap="round"/>
<text transform="translate(1345,1948.4) scale(1,1.038)" text-anchor="middle" font-size="30">6</text>
<text transform="translate(1385.4,1948.4) scale(1,1.038)" text-anchor="middle" font-size="30">4</text>
<text transform="translate(810.4,1560.4) scale(1,1.038)" font-size="30">I</text>
<rect x="192.83" y="2356.9" width="40.4" height="92.1" fill="#808080" stroke="#000" stroke-width="1.8"/>
<rect x="233.23" y="2395.1" width="40.4" height="53.9" fill="#fff" stroke="#000" stroke-width="1.8"/>
<line x1="213.03" y1="2356.9" x2="213.03" y2="2349.6" stroke="#000" stroke-width="1.8"/>
<line x1="201.53" y1="2349.6" x2="224.53" y2="2349.6" stroke="#000" stroke-width="1.8" stroke-linecap="round"/>
<line x1="253.43" y1="2395.1" x2="253.43" y2="2391" stroke="#000" stroke-width="1.8"/>
<line x1="241.93" y1="2391" x2="264.93" y2="2391" stroke="#000" stroke-width="1.8" stroke-linecap="round"/>
<text transform="translate(214.63,2443.7) scale(1,1.038)" text-anchor="middle" font-size="30">6</text>
<text transform="translate(255.03,2443.7) scale(1,1.038)" text-anchor="middle" font-size="30">6</text>
<rect x="354.48" y="2353" width="40.4" height="96" fill="#808080" stroke="#000" stroke-width="1.8"/>
<rect x="394.88" y="2407.5" width="40.4" height="41.5" fill="#fff" stroke="#000" stroke-width="1.8"/>
<line x1="374.68" y1="2353" x2="374.68" y2="2348.5" stroke="#000" stroke-width="1.8"/>
<line x1="363.18" y1="2348.5" x2="386.18" y2="2348.5" stroke="#000" stroke-width="1.8" stroke-linecap="round"/>
<line x1="415.07" y1="2407.5" x2="415.07" y2="2400" stroke="#000" stroke-width="1.8"/>
<line x1="403.57" y1="2400" x2="426.57" y2="2400" stroke="#000" stroke-width="1.8" stroke-linecap="round"/>
<text transform="translate(376.28,2443.7) scale(1,1.038)" text-anchor="middle" font-size="30">6</text>
<text transform="translate(416.68,2443.7) scale(1,1.038)" text-anchor="middle" font-size="30">5</text>
<rect x="516.12" y="2354.7" width="40.4" height="94.3" fill="#808080" stroke="#000" stroke-width="1.8"/>
<rect x="556.52" y="2378.3" width="40.4" height="70.7" fill="#fff" stroke="#000" stroke-width="1.8"/>
<line x1="536.32" y1="2354.7" x2="536.32" y2="2348.5" stroke="#000" stroke-width="1.8"/>
<line x1="524.82" y1="2348.5" x2="547.82" y2="2348.5" stroke="#000" stroke-width="1.8" stroke-linecap="round"/>
<line x1="576.73" y1="2378.3" x2="576.73" y2="2367.9" stroke="#000" stroke-width="1.8"/>
<line x1="565.23" y1="2367.9" x2="588.23" y2="2367.9" stroke="#000" stroke-width="1.8" stroke-linecap="round"/>
<text transform="translate(537.92,2443.7) scale(1,1.038)" text-anchor="middle" font-size="30">6</text>
<text transform="translate(578.33,2443.7) scale(1,1.038)" text-anchor="middle" font-size="30">6</text>
<rect x="677.77" y="2358.2" width="40.4" height="90.8" fill="#808080" stroke="#000" stroke-width="1.8"/>
<rect x="718.17" y="2386.7" width="40.4" height="62.3" fill="#fff" stroke="#000" stroke-width="1.8"/>
<line x1="697.97" y1="2358.2" x2="697.97" y2="2354.7" stroke="#000" stroke-width="1.8"/>
<line x1="686.47" y1="2354.7" x2="709.47" y2="2354.7" stroke="#000" stroke-width="1.8" stroke-linecap="round"/>
<line x1="738.38" y1="2386.7" x2="738.38" y2="2377.7" stroke="#000" stroke-width="1.8"/>
<line x1="726.88" y1="2377.7" x2="749.88" y2="2377.7" stroke="#000" stroke-width="1.8" stroke-linecap="round"/>
<text transform="translate(699.57,2443.7) scale(1,1.038)" text-anchor="middle" font-size="30">6</text>
<text transform="translate(739.98,2443.7) scale(1,1.038)" text-anchor="middle" font-size="30">5</text>
<use href="#ast" x="233.3" y="2307"/>
<use href="#ast" x="394.8" y="2308.6"/>
<use href="#ast" x="556.4" y="2305.4"/>
<use href="#ast" x="718.5" y="2315"/>
<text transform="translate(165.8,2055.9) scale(1,1.038)" font-size="30">E</text>
<text x="790.3" y="2055.9" text-anchor="end" font-size="30">bleaching status x pH</text>
<rect x="839.4" y="2340" width="40.4" height="109" fill="#808080" stroke="#000" stroke-width="1.8"/>
<rect x="879.8" y="2369.7" width="40.4" height="79.3" fill="#fff" stroke="#000" stroke-width="1.8"/>
<line x1="859.6" y1="2340" x2="859.6" y2="2323.5" stroke="#000" stroke-width="1.8"/>
<line x1="848.1" y1="2323.5" x2="871.1" y2="2323.5" stroke="#000" stroke-width="1.8" stroke-linecap="round"/>
<text transform="translate(861.6,2443.7) scale(1,1.038)" text-anchor="middle" font-size="30">6</text>
<text transform="translate(902,2443.7) scale(1,1.038)" text-anchor="middle" font-size="30">2</text>
<rect x="1001" y="2335.7" width="40.4" height="113.3" fill="#808080" stroke="#000" stroke-width="1.8"/>
<rect x="1041.4" y="2363.9" width="40.4" height="85.1" fill="#fff" stroke="#000" stroke-width="1.8"/>
<line x1="1021.2" y1="2335.7" x2="1021.2" y2="2323.5" stroke="#000" stroke-width="1.8"/>
<line x1="1009.7" y1="2323.5" x2="1032.7" y2="2323.5" stroke="#000" stroke-width="1.8" stroke-linecap="round"/>
<line x1="1061.6" y1="2363.9" x2="1061.6" y2="2350" stroke="#000" stroke-width="1.8"/>
<line x1="1050.1" y1="2350" x2="1073.1" y2="2350" stroke="#000" stroke-width="1.8" stroke-linecap="round"/>
<text transform="translate(1023.2,2443.7) scale(1,1.038)" text-anchor="middle" font-size="30">6</text>
<text transform="translate(1063.6,2443.7) scale(1,1.038)" text-anchor="middle" font-size="30">5</text>
<rect x="1162.6" y="2343.1" width="40.4" height="105.9" fill="#808080" stroke="#000" stroke-width="1.8"/>
<rect x="1203" y="2344" width="40.4" height="105" fill="#fff" stroke="#000" stroke-width="1.8"/>
<line x1="1182.8" y1="2343.1" x2="1182.8" y2="2339.4" stroke="#000" stroke-width="1.8"/>
<line x1="1171.3" y1="2339.4" x2="1194.3" y2="2339.4" stroke="#000" stroke-width="1.8" stroke-linecap="round"/>
<text transform="translate(1184.8,2443.7) scale(1,1.038)" text-anchor="middle" font-size="30">6</text>
<text transform="translate(1224.8,2441.9) scale(1,1.038)" text-anchor="middle" font-size="30">2</text>
<rect x="1324.2" y="2351" width="40.4" height="98" fill="#808080" stroke="#000" stroke-width="1.8"/>
<rect x="1364.6" y="2363.5" width="40.4" height="85.5" fill="#fff" stroke="#000" stroke-width="1.8"/>
<line x1="1344.4" y1="2351" x2="1344.4" y2="2341" stroke="#000" stroke-width="1.8"/>
<line x1="1332.9" y1="2341" x2="1355.9" y2="2341" stroke="#000" stroke-width="1.8" stroke-linecap="round"/>
<line x1="1384.8" y1="2363.5" x2="1384.8" y2="2353.3" stroke="#000" stroke-width="1.8"/>
<line x1="1373.3" y1="2353.3" x2="1396.3" y2="2353.3" stroke="#000" stroke-width="1.8" stroke-linecap="round"/>
<text transform="translate(1346.4,2443.7) scale(1,1.038)" text-anchor="middle" font-size="30">6</text>
<text transform="translate(1386.8,2443.7) scale(1,1.038)" text-anchor="middle" font-size="30">4</text>
<text transform="translate(809.3,2055.9) scale(1,1.038)" font-size="30">J</text>
<line x1="152.4" y1="783.2" x2="799" y2="783.2" stroke="#000" stroke-width="1.5" stroke-dasharray="20.5 6.9"/>
<line x1="795.3" y1="783.2" x2="1445.5" y2="783.2" stroke="#000" stroke-width="1.5" stroke-dasharray="20 7.5"/>
<line x1="145.4" y1="1437" x2="1445.5" y2="1437" stroke="#000" stroke-width="1.6"/>
<rect x="1135.3" y="63.9" width="67.5" height="21.7" fill="#808080" stroke="#000" stroke-width="1.7"/>
<rect x="1135.3" y="97.6" width="67.5" height="21.5" fill="#fff" stroke="#000" stroke-width="1.7"/>
<text x="1219.8" y="84.6" font-size="30">Non-bleached</text>
<text x="1219.8" y="118.2" font-size="30">Bleached</text>
<text x="150.6" y="25.8" font-size="30">December 20<tspan class="o">1</tspan>4</text>
<text x="793.4" y="26" font-size="30">June 20<tspan class="o">1</tspan>5</text>
<text x="233.23" y="2497.5" text-anchor="middle" font-size="30">Control</text>
<text x="394.88" y="2497.5" text-anchor="middle" font-size="30">Fed</text>
<text x="556.52" y="2497.5" text-anchor="middle" font-size="30">OA</text>
<text x="718.17" y="2497.5" text-anchor="middle" font-size="30">OA + fed</text>
<text x="879.8" y="2497.5" text-anchor="middle" font-size="30">Control</text>
<text x="1041.4" y="2497.5" text-anchor="middle" font-size="30">Fed</text>
<text x="1203" y="2497.5" text-anchor="middle" font-size="30">OA</text>
<text x="1364.6" y="2497.5" text-anchor="middle" font-size="30">OA + fed</text>
<text transform="translate(38.3,251.45) rotate(-90)" text-anchor="middle" font-size="30.2">Endosymbiont density (cells cm<tspan dy="-16" font-size="20">-</tspan><tspan dy="1.4">2</tspan><tspan dy="14.6">)</tspan></text>
<text transform="translate(53.3,742.7) rotate(-90)" text-anchor="middle" font-size="30.5">CTAR (%)</text>
<text transform="translate(61.0,1240.35) rotate(-90)" text-anchor="middle" font-size="30.5">Calcification (mg day<tspan dy="-16" font-size="20">-<tspan class="o">1</tspan></tspan><tspan dy="16"> cm</tspan><tspan dy="-16" font-size="20">-2</tspan><tspan dy="16">)</tspan></text>
<text transform="translate(46.7,1738.4) rotate(-90)" text-anchor="middle" font-size="30.5">Biomass (g cm<tspan dy="-16" font-size="20">-2</tspan><tspan dy="16">)</tspan></text>
<text transform="translate(61.2,2233.75) rotate(-90)" text-anchor="middle" font-size="30.5">Total lipids (J gdw<tspan dy="-16" font-size="20">-<tspan class="o">1</tspan></tspan><tspan dy="16">)</tspan></text>
<use href="#one" transform="translate(132,369) scale(1,1.038) translate(-60.14,0.00) scale(1,0.96339) scale(0.02670)"/>
<use href="#one" transform="translate(132,791.9) scale(1,1.038) translate(-44.55,0.00) scale(1,0.96339) scale(0.02670)"/>
<use href="#one" transform="translate(132,704.2) scale(1,1.038) translate(-44.55,0.00) scale(1,0.96339) scale(0.02670)"/>
<use href="#one" transform="translate(132,1258.8) scale(1,1.038) translate(-37.12,0.00) scale(1,0.96339) scale(0.02670)"/>
<use href="#one" transform="translate(132,1165.05) scale(1,1.038) translate(-37.12,0.00) scale(1,0.96339) scale(0.02670)"/>
<use href="#one" transform="translate(132,1867.4) scale(1,1.038) translate(-14.86,0.00) scale(1,0.96339) scale(0.02670)"/>
<use href="#one" transform="translate(132,2286.3) scale(1,1.038) translate(-37.12,0.00) scale(1,0.96339) scale(0.02670)"/>
<use href="#one" transform="translate(132,2200.3) scale(1,1.038) translate(-37.12,0.00) scale(1,0.96339) scale(0.02670)"/>
<use href="#one" transform=" translate(330.69,25.80) scale(0.03000)"/>
<use href="#one" transform=" translate(900.17,26.00) scale(0.03000)"/>
<use href="#one" transform="translate(61.0,1240.35) rotate(-90) translate(100.76,-16.00) scale(0.02000)"/>
<use href="#one" transform="translate(61.2,2233.75) rotate(-90) translate(114.73,-16.00) scale(0.02000)"/>
</svg>
</body></html>
